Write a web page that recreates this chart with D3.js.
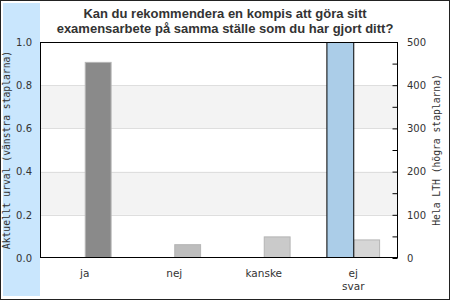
<!DOCTYPE html>
<html>
<head>
<meta charset="utf-8">
<script src="https://cdn.jsdelivr.net/npm/d3@7"></script>
<style>
  body { margin: 0; background: #fff; }
  svg { display: block; }
  text { fill: #333; }
</style>
</head>
<body>
<svg id="chart" width="450" height="300"></svg>
<script>
// data
const categories = ['ja', 'nej', 'kanske', 'ej svar'];
const urval = [0, 0, 0, 1.0];          // aktuellt urval (vänster axel)
const helaLTH = [454, 32, 50, 43];     // hela LTH (höger axel)
const leftTicks = [0, 0.2, 0.4, 0.6, 0.8, 1.0];
const rightTicks = [0, 100, 200, 300, 400, 500];
const grayFill = ['#8a8a8a', '#bdbdbd', '#cacaca', '#d6d6d6'];

const W = 450, H = 300;
const margin = { top: 42, right: 52, bottom: 42, left: 40 };
const width = W - margin.left - margin.right;
const height = H - margin.top - margin.bottom;

const svg = d3.select('#chart');

// bakgrund + ram
svg.append('rect').attr('x', 3).attr('y', 3).attr('width', 37).attr('height', 293).attr('fill', '#c9e6fd');
svg.append('rect').attr('x', 0.5).attr('y', 0.5).attr('width', W - 1).attr('height', H - 1)
  .attr('fill', 'none').attr('stroke', '#222');

// titel
const title = svg.append('text').attr('text-anchor', 'middle')
  .style('font-family', 'Liberation Sans, Arial, sans-serif').style('font-weight', 'bold').style('font-size', '13px');
title.append('tspan').attr('x', 225).attr('y', 18).text('Kan du rekommendera en kompis att göra sitt');
title.append('tspan').attr('x', 225).attr('y', 33).text('examensarbete på samma ställe som du har gjort ditt?');

const x = d3.scaleBand().domain(categories).range([0, width]);
const y0 = d3.scaleLinear().domain([0, 1]).range([height, 0]);
const y1 = d3.scaleLinear().domain([0, 500]).range([height, 0]);
const barW = x.bandwidth() * 0.3;

const chart = svg.append('g').attr('transform', `translate(${margin.left}, ${margin.top})`);

// band i bakgrunden
chart.selectAll('rect.band')
  .data([[0.2, 0.4], [0.6, 0.8]])
  .enter().append('rect')
  .attr('x', 0).attr('width', width)
  .attr('y', d => y0(d[1])).attr('height', d => y0(d[0]) - y0(d[1]))
  .attr('fill', '#f3f3f3');

chart.selectAll('line.grid')
  .data([0.2, 0.4, 0.6, 0.8])
  .enter().append('line')
  .attr('x1', 0).attr('x2', width)
  .attr('y1', d => Math.round(y0(d)) + 0.5).attr('y2', d => Math.round(y0(d)) + 0.5)
  .attr('stroke', '#dedede');

// staplar höger (hela LTH)
chart.selectAll('rect.right')
  .data(helaLTH)
  .enter().append('rect')
  .attr('x', (d, i) => x(categories[i]) + x.bandwidth() / 2 + 0.5)
  .attr('y', d => y1(d) + 0.5)
  .attr('width', barW - 1)
  .attr('height', d => Math.max(0, y1(0) - y1(d) - 1))
  .attr('fill', (d, i) => grayFill[i])
  .attr('stroke', '#b5b5b5');

// staplar vänster (aktuellt urval)
chart.selectAll('rect.left')
  .data(urval.map((v, i) => ({ v, i })).filter(d => d.v > 0))
  .enter().append('rect')
  .attr('x', d => x(categories[d.i]) + x.bandwidth() / 2 - barW + 0.5)
  .attr('y', d => y0(d.v) + 0.5)
  .attr('width', barW)
  .attr('height', d => y0(0) - y0(d.v) - 1)
  .attr('fill', '#abcde8')
  .attr('stroke', '#000');

// ram runt plottytan
chart.append('rect').attr('x', 0.5).attr('y', 0.5).attr('width', width - 1).attr('height', height - 1)
  .attr('fill', 'none').attr('stroke', '#000');

// vänster axel
const leftAxis = chart.append('g')
  .call(d3.axisLeft(y0).tickValues(leftTicks).tickSize(0).tickPadding(8).tickFormat(d3.format('.1f')));
leftAxis.select('.domain').remove();

// höger axel
const rightAxis = chart.append('g').attr('transform', `translate(${width - 0.5}, 0)`)
  .call(d3.axisLeft(y1).tickValues(d3.range(0, 501, 50)).tickSize(5).tickFormat(''));
rightAxis.select('.domain').remove();
const rightLabels = chart.append('g').attr('transform', `translate(${width}, 0)`)
  .call(d3.axisRight(y1).tickValues(rightTicks).tickSize(0).tickPadding(9));
rightLabels.select('.domain').remove();

svg.selectAll('.tick text').style('font-family', 'DejaVu Sans, sans-serif').style('font-size', '10px').attr('fill', '#333');
svg.selectAll('.tick line').attr('stroke', '#000');

// x-axel etiketter
const xl = chart.append('g').attr('transform', `translate(0, ${height})`)
  .call(d3.axisBottom(x).tickSize(0).tickPadding(0).tickFormat(''));
xl.select('.domain').remove();
xl.selectAll('.tick').append('text')
  .attr('text-anchor', 'middle')
  .style('font-family', 'DejaVu Sans, sans-serif').style('font-size', '10.5px').attr('fill', '#333')
  .each(function (d) {
    const parts = d.split(' ');
    parts.forEach((p, j) => d3.select(this).append('tspan').attr('x', 0).attr('y', 19 + j * 12.5).text(p));
  });

// axeltitlar
svg.append('text')
  .attr('transform', `translate(10, ${margin.top + height / 2}) rotate(-90)`)
  .attr('text-anchor', 'middle')
  .style('font-family', 'DejaVu Sans Mono, monospace').style('font-size', '9.7px')
  .text('Aktuellt urval (vänstra staplarna)');
svg.append('text')
  .attr('transform', `translate(440, ${margin.top + height / 2}) rotate(-90)`)
  .attr('text-anchor', 'middle')
  .style('font-family', 'DejaVu Sans Mono, monospace').style('font-size', '9.7px')
  .text('Hela LTH (högra staplarna)');
</script>
</body>
</html>
